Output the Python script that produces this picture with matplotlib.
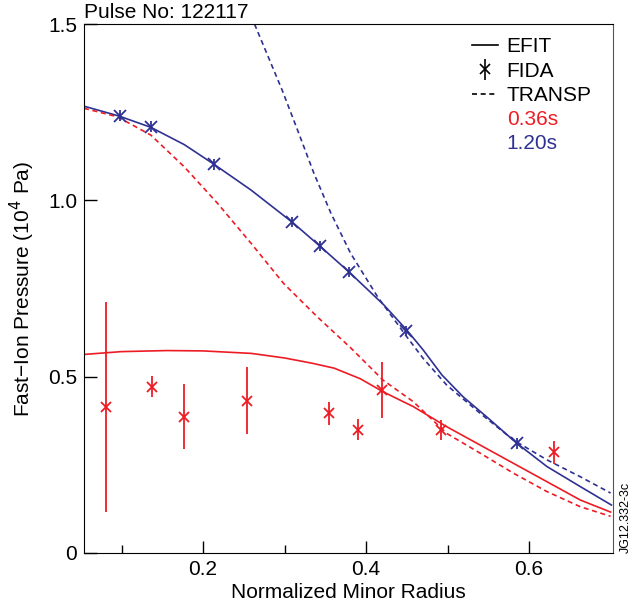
import numpy as np
import matplotlib
matplotlib.use('Agg')
import matplotlib.pyplot as plt
from matplotlib.lines import Line2D

plt.rcParams['font.family'] = ['Liberation Sans', 'DejaVu Sans']
plt.rcParams['font.size'] = 15

red = '#ed1c24'
blue = '#2e3192'

# EFIT (solid)
efit_x_036 = [0.054, 0.10, 0.156, 0.20, 0.259, 0.30, 0.334, 0.361, 0.393, 0.421, 0.458,
              0.499, 0.540, 0.581, 0.622, 0.663, 0.70]
efit_y_036 = [0.563, 0.571, 0.574, 0.573, 0.566, 0.553, 0.538, 0.524, 0.494, 0.457, 0.415,
              0.358, 0.306, 0.254, 0.202, 0.150, 0.116]
efit_x_120 = [0.054, 0.097, 0.136, 0.177, 0.213, 0.259, 0.310, 0.344, 0.380, 0.422, 0.45,
              0.470, 0.493, 0.519, 0.548, 0.585, 0.622, 0.663, 0.701]
efit_y_120 = [1.267, 1.239, 1.207, 1.158, 1.103, 1.029, 0.937, 0.869, 0.795, 0.703, 0.632,
              0.576, 0.505, 0.443, 0.386, 0.311, 0.245, 0.188, 0.136]

# TRANSP (dashed)
transp_x_036 = [0.054, 0.095, 0.136, 0.177, 0.218, 0.259, 0.299, 0.340, 0.381, 0.421, 0.458,
                0.499, 0.540, 0.581, 0.622, 0.663, 0.70]
transp_y_036 = [1.261, 1.237, 1.185, 1.095, 0.991, 0.878, 0.764, 0.670, 0.582, 0.490, 0.429,
                0.339, 0.283, 0.226, 0.174, 0.131, 0.104]
transp_x_120 = [0.255, 0.297, 0.316, 0.336, 0.357, 0.381, 0.414, 0.45, 0.470, 0.499, 0.540,
                0.581, 0.622, 0.663, 0.70]
transp_y_120 = [1.545, 1.313, 1.199, 1.077, 0.963, 0.850, 0.727, 0.613, 0.552, 0.476, 0.396,
                0.320, 0.264, 0.216, 0.170]

# FIDA (points with error bars)
fida_x_036 = [0.081, 0.137, 0.177, 0.254, 0.354, 0.390, 0.419, 0.492, 0.630]
fida_y_036 = [0.415, 0.472, 0.387, 0.432, 0.396, 0.349, 0.462, 0.349, 0.285]
fida_e_036 = [0.298, 0.030, 0.093, 0.094, 0.032, 0.030, 0.080, 0.028, 0.033]
fida_x_120 = [0.098, 0.136, 0.214, 0.309, 0.344, 0.379, 0.449, 0.585]
fida_y_120 = [1.240, 1.209, 1.102, 0.938, 0.870, 0.797, 0.629, 0.311]
fida_e_120 = [0.015] * len(fida_x_120)

fig = plt.figure(figsize=(6.35, 6.08), dpi=100)
ax = fig.add_axes([0.1323, 0.0905, 0.8331, 0.870])

lw = 1.2
dash = (0, (3.0, 2.2))
ax.plot(efit_x_036, efit_y_036, color=red, lw=lw)
ax.plot(efit_x_120, efit_y_120, color=blue, lw=lw)
ax.plot(transp_x_036, transp_y_036, color=red, lw=lw, linestyle=dash)
ax.plot(transp_x_120, transp_y_120, color=blue, lw=lw, linestyle=dash)
ax.errorbar(fida_x_036, fida_y_036, yerr=fida_e_036, fmt='x', color=red,
            ms=7, mew=1.3, elinewidth=1.3, capsize=0)
ax.errorbar(fida_x_120, fida_y_120, yerr=fida_e_120, fmt='x', color=blue,
            ms=8, mew=1.3, elinewidth=1.3, capsize=0)

ax.set_xlim(0.054, 0.703)
ax.set_ylim(0, 1.5)
ax.set_xticks([0.2, 0.4, 0.6])
ax.set_xticks([0.1, 0.3, 0.5], minor=True)
ax.set_yticks([0, 0.5, 1.0, 1.5])
ax.set_yticklabels(['0', '0.5', '1.0', '1.5'])
ax.tick_params(axis='both', which='major', direction='in', length=9, width=1, pad=5)
ax.tick_params(axis='x', which='minor', direction='in', length=6, width=1)
ax.spines['right'].set_color('#555555')

ax.set_xlabel('Normalized Minor Radius', labelpad=3)
ax.set_ylabel('Fast\u2212Ion Pressure (10$^4$ Pa)', labelpad=8)
ax.text(0.0, 1.003, 'Pulse No: 122117', transform=ax.transAxes, ha='left', va='bottom')
ax.text(1.012, 0.0, 'JG12.332-3c', transform=ax.transAxes, rotation=90,
        ha='left', va='bottom', fontsize=9)

fida_handle = ax.errorbar([], [], yerr=[], fmt='x', color='black', ms=7, mew=1.2,
                          elinewidth=1.2, capsize=0)
handles = [Line2D([], [], color='black', lw=lw),
           fida_handle,
           Line2D([], [], color='black', lw=lw, linestyle=dash),
           Line2D([], [], color='none'),
           Line2D([], [], color='none')]
labels = ['EFIT', 'FIDA', 'TRANSP', '0.36s', '1.20s']
leg = ax.legend(handles, labels, loc='upper right', frameon=False, handlelength=1.25,
                handletextpad=0.4, labelspacing=0.25, bbox_to_anchor=(0.995, 1.01))
leg.get_texts()[3].set_color(red)
leg.get_texts()[4].set_color(blue)

plt.savefig('out.png', dpi=100)
